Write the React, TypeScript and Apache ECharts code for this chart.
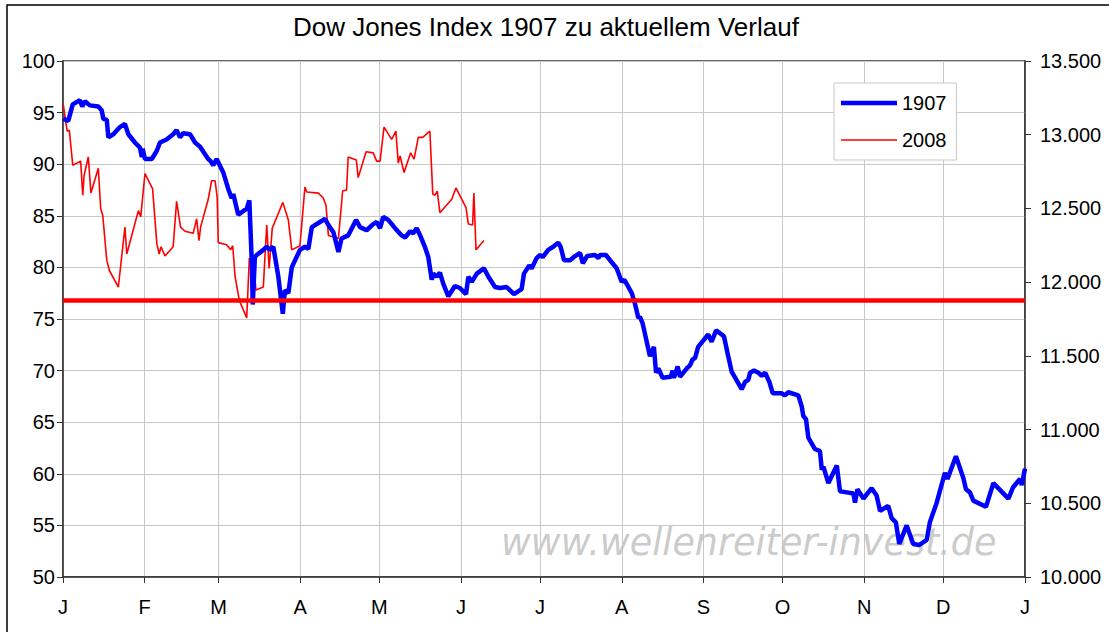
import React, { useEffect, useRef } from "react";
import * as echarts from "echarts";

// Day of year (0 = 1 Jan) and index level
const dow1907Days = [0.1, 2.0, 3.7, 6.4, 7.3, 8.3, 10.2, 13.4, 14.7, 15.3, 16.6, 17.2, 19.1, 21.6, 23.5, 24.8, 27.3, 29.2, 29.9, 30.2, 31.1, 33.7, 35.6, 36.8, 39.3, 41.8, 43.1, 44.4, 45.6, 48.2, 50.1, 52.0, 55.1, 56.0, 57.0, 58.3, 60.8, 62.7, 64.0, 64.6, 66.5, 69.7, 70.7, 71.6, 72.0, 72.8, 73.5, 76.0, 77.3, 78.5, 79.8, 81.7, 83.4, 84.2, 85.5, 86.8, 89.9, 91.8, 93.1, 94.4, 97.5, 99.4, 100.7, 102.6, 104.5, 105.7, 108.2, 111.2, 112.7, 115.2, 117.7, 119.0, 120.3, 121.5, 123.4, 126.0, 128.5, 129.8, 131.7, 132.9, 134.2, 135.5, 137.3, 138.6, 139.9, 140.5, 141.8, 143.0, 144.3, 146.2, 148.7, 150.6, 152.9, 153.8, 155.1, 157.0, 159.7, 161.4, 163.9, 165.8, 168.3, 171.1, 174.0, 174.9, 176.9, 177.8, 179.7, 181.0, 182.0, 184.1, 186.0, 187.9, 188.8, 190.1, 192.4, 194.3, 196.2, 197.2, 198.9, 201.9, 203.1, 203.7, 206.0, 208.2, 210.1, 212.0, 213.0, 215.8, 217.0, 218.3, 218.9, 219.9, 222.7, 224.2, 225.0, 225.9, 227.5, 230.6, 231.3, 231.8, 233.2, 234.1, 236.6, 237.9, 238.9, 239.8, 241.0, 242.9, 244.8, 246.1, 247.8, 249.9, 250.8, 252.4, 253.7, 257.5, 258.8, 260.0, 260.7, 262.2, 263.8, 265.1, 266.4, 268.0, 269.3, 272.7, 273.9, 275.2, 279.0, 280.3, 280.9, 281.9, 282.8, 285.3, 287.2, 287.9, 288.5, 290.4, 293.6, 294.8, 297.4, 299.9, 300.5, 301.4, 303.7, 306.8, 308.7, 310.0, 313.1, 314.4, 316.0, 317.3, 320.1, 322.6, 324.9, 327.7, 328.9, 331.5, 334.6, 335.6, 338.8, 341.6, 342.6, 344.1, 345.4, 350.2, 353.0, 358.7, 360.5, 363.1, 363.8, 364.3, 365.0];
const dow1907Values = [94.4, 94.2, 95.8, 96.2, 95.6, 96.1, 95.7, 95.6, 95.2, 94.4, 94.3, 92.6, 92.9, 93.6, 93.9, 92.9, 92.1, 91.6, 90.7, 91.5, 90.5, 90.5, 91.3, 92.1, 92.4, 92.9, 93.3, 92.6, 93.0, 92.9, 92.1, 91.7, 90.5, 90.3, 89.9, 90.5, 89.2, 87.6, 86.7, 87.1, 85.1, 85.7, 86.5, 80.7, 76.4, 81.0, 81.2, 81.7, 82.0, 81.7, 82.0, 79.1, 75.5, 77.8, 77.5, 80.0, 81.7, 82.0, 81.8, 83.9, 84.4, 84.7, 84.1, 83.4, 81.5, 82.8, 83.1, 84.6, 83.9, 83.6, 84.2, 84.4, 83.8, 84.9, 84.6, 83.8, 83.1, 82.9, 83.5, 83.3, 83.8, 83.1, 82.0, 81.0, 78.8, 79.4, 79.1, 79.5, 78.4, 77.2, 78.2, 78.0, 77.4, 79.1, 78.6, 79.4, 79.9, 79.1, 78.1, 78.0, 78.1, 77.4, 77.9, 79.4, 80.2, 79.9, 80.9, 81.2, 81.0, 81.7, 82.0, 82.4, 82.0, 80.7, 80.7, 81.1, 81.4, 80.4, 81.1, 81.2, 80.9, 81.2, 81.2, 80.5, 79.9, 78.6, 78.8, 77.5, 76.5, 75.1, 75.2, 74.6, 71.4, 72.3, 69.8, 70.2, 69.3, 69.4, 70.0, 69.3, 70.4, 69.4, 70.2, 70.5, 71.1, 71.2, 72.3, 72.9, 73.5, 72.8, 73.9, 73.5, 73.3, 71.4, 69.9, 68.2, 68.9, 69.1, 69.8, 70.0, 69.8, 69.5, 69.8, 68.9, 67.8, 67.8, 67.6, 67.9, 67.6, 66.5, 65.6, 65.3, 63.5, 62.4, 62.2, 60.4, 60.7, 59.1, 60.8, 58.3, 58.2, 58.1, 57.2, 58.5, 57.6, 58.6, 57.9, 56.4, 56.9, 55.7, 55.3, 53.2, 55.0, 53.2, 53.1, 53.6, 55.3, 57.2, 60.1, 59.5, 61.7, 59.6, 58.5, 58.2, 57.4, 56.8, 59.1, 57.6, 58.7, 59.5, 58.9, 59.6, 60.5];

const dow2008Days = [0.1, 1.1, 1.6, 2.4, 3.7, 6.7, 7.5, 8.0, 9.6, 10.6, 13.4, 14.3, 15.1, 16.6, 17.6, 21.0, 23.5, 24.2, 28.6, 29.5, 31.1, 34.0, 35.6, 36.5, 37.2, 38.7, 41.8, 43.1, 44.6, 46.3, 49.4, 50.7, 51.6, 52.2, 55.1, 56.4, 57.7, 58.5, 58.9, 62.1, 63.6, 64.4, 65.3, 66.9, 69.7, 70.7, 71.6, 72.2, 73.2, 76.0, 77.3, 78.2, 79.4, 83.4, 85.5, 86.8, 89.9, 91.8, 92.5, 96.9, 98.8, 99.8, 100.7, 104.5, 106.1, 107.6, 108.2, 111.3, 112.0, 115.0, 117.7, 119.0, 120.3, 121.8, 124.7, 126.3, 127.2, 127.9, 129.4, 131.9, 133.2, 134.8, 136.5, 139.2, 140.3, 141.1, 142.0, 143.0, 147.5, 149.1, 150.9, 152.9, 153.8, 155.4, 155.9, 156.7, 159.7];
const dow2008Values = [13206, 13080, 13024, 13031, 12793, 12821, 12590, 12723, 12849, 12604, 12772, 12499, 12450, 12149, 12079, 11967, 12373, 12191, 12485, 12443, 12737, 12632, 12261, 12191, 12240, 12177, 12240, 12548, 12373, 12345, 12331, 12429, 12282, 12373, 12562, 12688, 12688, 12576, 12268, 12254, 12219, 12247, 12037, 11876, 11757, 12163, 12128, 12163, 11946, 11967, 12387, 12093, 12366, 12541, 12422, 12219, 12247, 12646, 12611, 12604, 12569, 12520, 12317, 12296, 12618, 12625, 12849, 12828, 12709, 12884, 12877, 12821, 12821, 13052, 12968, 13024, 12807, 12856, 12744, 12877, 12835, 12982, 12982, 13024, 12597, 12590, 12618, 12471, 12562, 12639, 12576, 12506, 12394, 12387, 12604, 12219, 12282];

const referenceLevel = 76.8;
const monthStarts = [0, 31, 59, 90, 120, 151, 181, 212, 243, 273, 304, 334, 365];
const monthLabels = ["J", "F", "M", "A", "M", "J", "J", "A", "S", "O", "N", "D", "J"];
const seriesNames = ["1907", "2008"];
const titleText = "Dow Jones Index 1907 zu aktuellem Verlauf";
const watermarkText = "www.wellenreiter-invest.de";

const FONT = '"Liberation Sans", Arial, sans-serif';

function fmtThousands(v: number): string {
  const th = Math.floor(v / 1000);
  const rest = Math.round(v % 1000);
  return th > 0 ? `${th}.${String(rest).padStart(3, "0")}` : String(rest);
}

export default function App() {
  const ref = useRef<HTMLDivElement>(null);
  useEffect(() => {
    document.body.style.margin = "0";
    if (!ref.current) return;
    const chart = echarts.init(ref.current, undefined, { renderer: "svg" });
    const s1907 = dow1907Days.map((d, i) => [d, dow1907Values[i]]);
    const s2008 = dow2008Days.map((d, i) => [d, dow2008Values[i]]);
    const refLine = [[monthStarts[0], referenceLevel], [monthStarts[monthStarts.length - 1], referenceLevel]];
    chart.setOption({
      animation: false,
      backgroundColor: "#ffffff",
      textStyle: { fontFamily: FONT },
      title: {
        text: titleText,
        left: 288,
        top: 9,
        textStyle: { fontFamily: FONT, fontSize: 26, fontWeight: "normal", color: "#000" },
      },
      legend: {
        data: [
          { name: seriesNames[0], icon: "path://M0,0H56V4.5H0Z" },
          { name: seriesNames[1], icon: "path://M0,0H56V1.6H0Z" },
        ],
        orient: "vertical",
        left: 834,
        top: 83,
        width: 110,
        padding: [10, 10, 10, 7],
        itemWidth: 56,
        itemHeight: 12,
        itemGap: 17,
        symbolKeepAspect: true,
        borderColor: "#c8c8c8",
        borderWidth: 1,
        backgroundColor: "#ffffff",
        textStyle: { fontFamily: FONT, fontSize: 20, color: "#000" },
      },
      grid: {
        left: 63,
        right: 84,
        top: 61,
        bottom: 55,
        show: true,
        borderColor: "#333",
        borderWidth: 1.5,
        backgroundColor: "transparent",
      },
      xAxis: {
        type: "value",
        min: 0,
        max: 365,
        axisLine: { show: true, lineStyle: { color: "#333", width: 1.5 } },
        axisTick: { show: true, inside: false, length: 6, customValues: monthStarts, lineStyle: { color: "#333" } },
        axisLabel: {
          customValues: monthStarts,
          margin: 20,
          fontSize: 20,
          fontFamily: FONT,
          color: "#000",
          formatter: (v: number) => monthLabels[monthStarts.indexOf(Math.round(v))] ?? "",
        },
        splitLine: { show: true, lineStyle: { color: "#c8c8c8", width: 1 } },
      },
      yAxis: [
        {
          type: "value",
          min: 50,
          max: 100,
          interval: 5,
          axisLine: { show: true, lineStyle: { color: "#333", width: 1.5 } },
          axisTick: { show: true, length: 6, lineStyle: { color: "#333" } },
          axisLabel: { margin: 8, fontSize: 20, fontFamily: FONT, color: "#000" },
          splitLine: { show: true, lineStyle: { color: "#c8c8c8", width: 1 } },
        },
        {
          type: "value",
          min: 10000,
          max: 13500,
          interval: 500,
          position: "right",
          axisLine: { show: true, lineStyle: { color: "#333", width: 1.5 } },
          axisTick: { show: true, length: 6, lineStyle: { color: "#333" } },
          axisLabel: { margin: 15, fontSize: 20, fontFamily: FONT, color: "#000", formatter: (v: number) => fmtThousands(v) },
          splitLine: { show: false },
        },
      ],
      graphic: [
        {
          type: "rect",
          shape: { x: 7, y: 5, width: 1200, height: 700 },
          style: { fill: "none", stroke: "#000", lineWidth: 1.5 },
          silent: true,
          z: 0,
        },
        {
          type: "text",
          x: 501,
          y: 542,
          style: {
            text: watermarkText,
            font: 'italic 36.5px "DejaVu Sans", sans-serif',
            fill: "#c4c4c4",
            verticalAlign: "middle",
            opacity: 0.9,
          },
          silent: true,
          z: 1,
        },
      ],
      series: [
        {
          name: seriesNames[0],
          type: "line",
          data: s1907,
          yAxisIndex: 0,
          symbol: "none",
          color: "#0000ff",
          lineStyle: { color: "#0000ff", width: 4.5 },
          z: 4,
        },
        {
          name: seriesNames[1],
          type: "line",
          data: s2008,
          yAxisIndex: 1,
          symbol: "none",
          color: "#ff0000",
          lineStyle: { color: "#ff0000", width: 1.6 },
          z: 3,
        },
        {
          name: "Referenz",
          type: "line",
          data: refLine,
          yAxisIndex: 0,
          symbol: "none",
          color: "#ff0000",
          lineStyle: { color: "#ff0000", width: 4.5 },
          z: 5,
        },
      ],
    });
    return () => chart.dispose();
  }, []);
  return <div ref={ref} style={{ width: 1109, height: 632 }} />;
}
